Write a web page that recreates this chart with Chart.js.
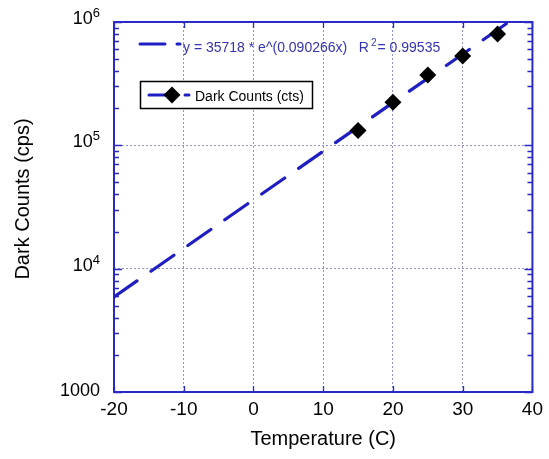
<!DOCTYPE html>
<html><head><meta charset="utf-8">
<script src="https://cdn.jsdelivr.net/npm/chart.js@4.4.1/dist/chart.umd.min.js"></script>
<style>html,body{margin:0;padding:0;background:#fff}#wrap{width:549px;height:459px}</style>
</head><body><div id="wrap"><canvas id="c" width="549" height="459"></canvas></div>
<script>
// ---- data ----
const temperatures = [15, 20, 25, 30, 35];
const darkCounts = [132000, 224000, 371000, 530000, 798000];
const fitX = [-20, 36.6];
const fitY = [5900, 1000000];
const xTicks = [-20, -10, 0, 10, 20, 30, 40];
const yDecades = [1000, 10000, 100000, 1000000];
const yTickBase = ['1000', '10', '10', '10'];
const yTickExp = ['', '4', '5', '6'];
const fitLabelMain = 'y = 35718 * e^(0.090266x)   R';
const fitLabelSup = '2';
const fitLabelTail = '= 0.99535';
const seriesLabel = 'Dark Counts (cts)';
const xTitle = 'Temperature (C)';
const yTitle = 'Dark Counts (cps)';

const AXIS = '#2a2ac8';
const LINE = '#1e1ec4';
const TEXTBLUE = '#3434b4';
const GRID = 'rgba(100,100,185,0.7)';
const FONT = "'Liberation Sans', Arial, sans-serif";

const decoPlugin = {
  id: 'deco',
  beforeDatasetsDraw(chart) {
    const {ctx, chartArea: a, scales: {x, y}} = chart;
    ctx.save();
    ctx.strokeStyle = AXIS;
    ctx.lineWidth = 1.3;
    ctx.beginPath();
    for (let d = 0; d < yDecades.length - 1; d++) {
      for (let m = 2; m <= 9; m++) {
        const py = Math.round(y.getPixelForValue(yDecades[d] * m)) + 0.5;
        ctx.moveTo(a.left, py); ctx.lineTo(a.left + 5, py);
        ctx.moveTo(a.right, py); ctx.lineTo(a.right - 5, py);
      }
    }
    for (const v of yDecades) {
      const py = Math.round(y.getPixelForValue(v)) + 0.5;
      ctx.moveTo(a.left, py); ctx.lineTo(a.left + 8, py);
      ctx.moveTo(a.right, py); ctx.lineTo(a.right - 8, py);
    }
    for (const v of xTicks) {
      const px = Math.round(x.getPixelForValue(v)) + 0.5;
      ctx.moveTo(px, a.top); ctx.lineTo(px, a.top + 6);
      ctx.moveTo(px, a.bottom); ctx.lineTo(px, a.bottom - 6);
    }
    ctx.stroke();
    ctx.lineWidth = 2;
    ctx.strokeRect(a.left, a.top, a.right - a.left, a.bottom - a.top);
    ctx.restore();
  },
  afterDraw(chart) {
    const {ctx, scales: {y}} = chart;
    ctx.save();
    // y title
    ctx.fillStyle = '#000';
    ctx.font = '20px ' + FONT;
    ctx.textAlign = 'center';
    ctx.textBaseline = 'alphabetic';
    ctx.save();
    ctx.translate(29, 199);
    ctx.rotate(-Math.PI / 2);
    ctx.fillText(yTitle, 0, 0);
    ctx.restore();
    // y tick labels with superscripts
    ctx.textAlign = 'left';
    const rightEdge = 100;
    for (let i = 0; i < yDecades.length; i++) {
      const py = y.getPixelForValue(yDecades[i]);
      ctx.font = '18px ' + FONT;
      const wb = ctx.measureText(yTickBase[i]).width;
      let we = 0;
      if (yTickExp[i]) { ctx.font = '13px ' + FONT; we = ctx.measureText(yTickExp[i]).width; }
      const x0 = rightEdge - wb - we;
      ctx.font = '18px ' + FONT;
      ctx.fillText(yTickBase[i], x0, py + (yTickExp[i] ? 2 : 4));
      if (yTickExp[i]) {
        ctx.font = '13px ' + FONT;
        ctx.fillText(yTickExp[i], x0 + wb, py - 5);
      }
    }
    // fit label with line sample
    ctx.strokeStyle = LINE;
    ctx.lineWidth = 3;
    ctx.lineCap = 'round';
    ctx.beginPath();
    ctx.moveTo(140, 44); ctx.lineTo(165, 44);
    ctx.moveTo(177, 44); ctx.lineTo(180, 44);
    ctx.stroke();
    ctx.fillStyle = TEXTBLUE;
    ctx.font = '14px ' + FONT;
    let tx = 183;
    ctx.fillText(fitLabelMain, tx, 52);
    tx += ctx.measureText(fitLabelMain).width + 2;
    ctx.font = '10px ' + FONT;
    ctx.fillText(fitLabelSup, tx, 46);
    tx += ctx.measureText(fitLabelSup).width + 1;
    ctx.font = '14px ' + FONT;
    ctx.fillText(fitLabelTail, tx, 52);
    // legend box
    ctx.fillStyle = '#fff';
    ctx.fillRect(140, 81, 172, 27);
    ctx.strokeStyle = '#000';
    ctx.lineWidth = 1.5;
    ctx.strokeRect(140.5, 81.5, 172, 27);
    ctx.strokeStyle = LINE;
    ctx.lineWidth = 3;
    ctx.beginPath();
    ctx.moveTo(149, 95); ctx.lineTo(172, 95);
    ctx.moveTo(185, 95); ctx.lineTo(189, 95);
    ctx.stroke();
    ctx.fillStyle = '#000';
    ctx.beginPath();
    ctx.moveTo(172 - 8.5, 95); ctx.lineTo(172, 95 - 8.5);
    ctx.lineTo(172 + 8.5, 95); ctx.lineTo(172, 95 + 8.5);
    ctx.closePath(); ctx.fill();
    ctx.font = '14px ' + FONT;
    ctx.fillText(seriesLabel, 195, 101);
    ctx.restore();
  }
};

new Chart(document.getElementById('c'), {
  type: 'scatter',
  data: {
    datasets: [
      {
        label: seriesLabel,
        data: temperatures.map((t, i) => ({x: t, y: darkCounts[i]})),
        pointStyle: 'rectRot',
        pointRadius: 8.5,
        pointHoverRadius: 8.5,
        backgroundColor: '#000',
        borderColor: '#000',
        borderWidth: 0,
        showLine: false,
        order: 0
      },
      {
        label: 'fit',
        data: fitX.map((t, i) => ({x: t, y: fitY[i]})),
        showLine: true,
        borderColor: LINE,
        borderWidth: 3.2,
        borderDash: [28, 17],
        borderCapStyle: 'round',
        pointRadius: 0,
        fill: false,
        order: 1
      }
    ]
  },
  options: {
    responsive: false,
    animation: false,
    devicePixelRatio: 1,
    layout: {padding: {left: 0, top: 22, right: 16, bottom: 0}},
    plugins: {legend: {display: false}, tooltip: {enabled: false}},
    scales: {
      x: {
        type: 'linear', min: -20, max: 40,
        afterBuildTicks: s => { s.ticks = xTicks.map(v => ({value: v})); },
        afterFit: s => { s.height = 67; },
        ticks: {font: {family: FONT, size: 19}, color: '#000', padding: 6, maxRotation: 0},
        grid: {color: GRID, lineWidth: 1, drawTicks: false},
        border: {display: false, dash: [2, 2]},
        title: {display: true, text: xTitle, font: {family: FONT, size: 20}, color: '#000', padding: {top: 8, bottom: 8}}
      },
      y: {
        type: 'logarithmic', min: 1000, max: 1000000,
        afterBuildTicks: s => { s.ticks = yDecades.map(v => ({value: v})); },
        afterFit: s => { s.width = 114; },
        ticks: {display: false},
        grid: {color: GRID, lineWidth: 1, drawTicks: false},
        border: {display: false, dash: [2, 2]},
        title: {display: false}
      }
    }
  },
  plugins: [decoPlugin]
});
</script></body></html>
